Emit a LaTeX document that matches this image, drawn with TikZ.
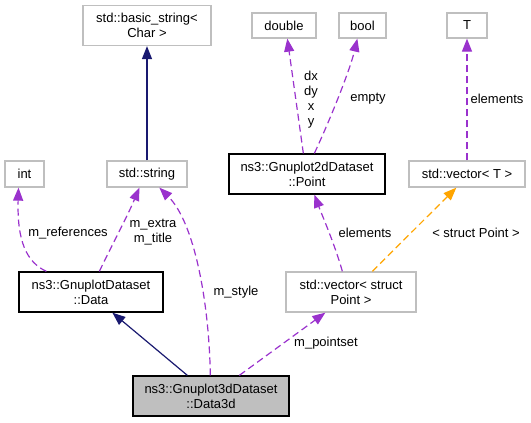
\documentclass[tikz,border=0pt]{standalone}
\usepackage{fontspec}
\setmainfont{Liberation Sans}
\usetikzlibrary{arrows.meta,calc}
\definecolor{edgeblue}{RGB}{25,25,112}
\definecolor{edgepurple}{RGB}{154,50,205}
\definecolor{edgeorange}{RGB}{255,165,0}
\definecolor{boxgray}{RGB}{191,191,191}
\begin{document}
\begin{tikzpicture}[x=1pt,y=-1pt,
  font=\fontsize{13}{15}\selectfont,
  box/.style={rectangle, draw=boxgray, line width=1.3pt, fill=white, inner sep=0pt, align=center, text=black},
  mainbox/.style={box, draw=black},
  selbox/.style={box, draw=black, fill=boxgray},
  tipstyle/.style={-{Triangle[length=13pt,width=10pt]}},
  inherit/.style={draw=edgeblue, line width=1.2pt, tipstyle},
  usage/.style={draw=edgepurple, line width=1.2pt, dash pattern=on 7pt off 4pt, tipstyle},
  tmpl/.style={draw=edgeorange, line width=1.2pt, dash pattern=on 7pt off 4pt, tipstyle},
  lbl/.style={inner sep=0pt, align=center, text=black}
]
\useasboundingbox (0,0) rectangle (531,423);

\node[box, minimum width=128pt, minimum height=40pt] (bstr) at (147,25.5) {std::basic\_string<\\Char >};
\node[box, minimum width=39pt, minimum height=26pt] (int) at (24.5,174) {int};
\node[box, minimum width=80pt, minimum height=26pt] (str) at (147,174) {std::string};
\node[mainbox, minimum width=144pt, minimum height=40pt] (data) at (91,292) {ns3::GnuplotDataset\\::Data};
\node[selbox, minimum width=156pt, minimum height=40pt] (d3) at (211,396) {ns3::Gnuplot3dDataset\\::Data3d};
\node[box, minimum width=64pt, minimum height=25pt] (dbl) at (284,25.5) {double};
\node[box, minimum width=47pt, minimum height=25pt] (bool) at (362.5,25.5) {bool};
\node[box, minimum width=40pt, minimum height=25pt] (T) at (467,25.5) {T};
\node[mainbox, minimum width=156pt, minimum height=40pt] (pt) at (307,174) {ns3::Gnuplot2dDataset\\::Point};
\node[box, minimum width=116pt, minimum height=26pt] (vecT) at (467,174) {std::vector< T >};
\node[box, minimum width=130pt, minimum height=40pt] (vecP) at (351,292) {std::vector< struct\\Point >};

% inheritance
\draw[inherit] (str.north) -- (bstr.south);
\draw[inherit] ($(d3.north west)+(55,0)$) -- ($(data.south west)+(94,0)$);

% usage
\draw[usage] ($(data.north west)+(28,0)$) .. controls (26,262) and (17,240) .. ($(int.south)+(-6,0)$);
\node[lbl] (lref) at (68,233) {m\_references};

\draw[usage] ($(data.north west)+(81,0)$) .. controls (112,245) and (128,215) .. ($(str.south west)+(33,0)$);
\node[lbl] (lext) at (153,232.5) {m\_extra\\m\_title};

\draw[usage] ($(d3.north west)+(78,0)$) .. controls (209,300) and (194,222) .. ($(str.south west)+(53,0)$);
\node[lbl] (lsty) at (236,292) {m\_style};

\draw[usage] ($(d3.north west)+(107,0)$) -- ($(vecP.south west)+(40,0)$);
\node[lbl] (lps) at (326,343) {m\_pointset};

\draw[usage] ($(vecP.north west)+(57,0)$) .. controls (335,245) and (322,215) .. ($(pt.south west)+(86,0)$);
\node[lbl] (lel1) at (365,233) {elements};

\draw[usage] ($(pt.north west)+(75,0)$) -- ($(dbl.south west)+(36,0)$);
\node[lbl] (ldx) at (311,99.5) {dx\\dy\\x\\y};

\draw[usage] ($(pt.north west)+(86,0)$) .. controls (330,120) and (350,70) .. ($(bool.south west)+(19,0)$);
\node[lbl] (lemp) at (368,99) {empty};

\draw[usage] (vecT.north) -- (T.south);
\node[lbl] (lel2) at (497,99) {elements};

% template
\draw[tmpl] ($(vecP.north west)+(87,0)$) -- ($(vecT.south west)+(48,0)$);
\node[lbl] (ltp) at (476,233) {< struct Point >};
\end{tikzpicture}
\end{document}
